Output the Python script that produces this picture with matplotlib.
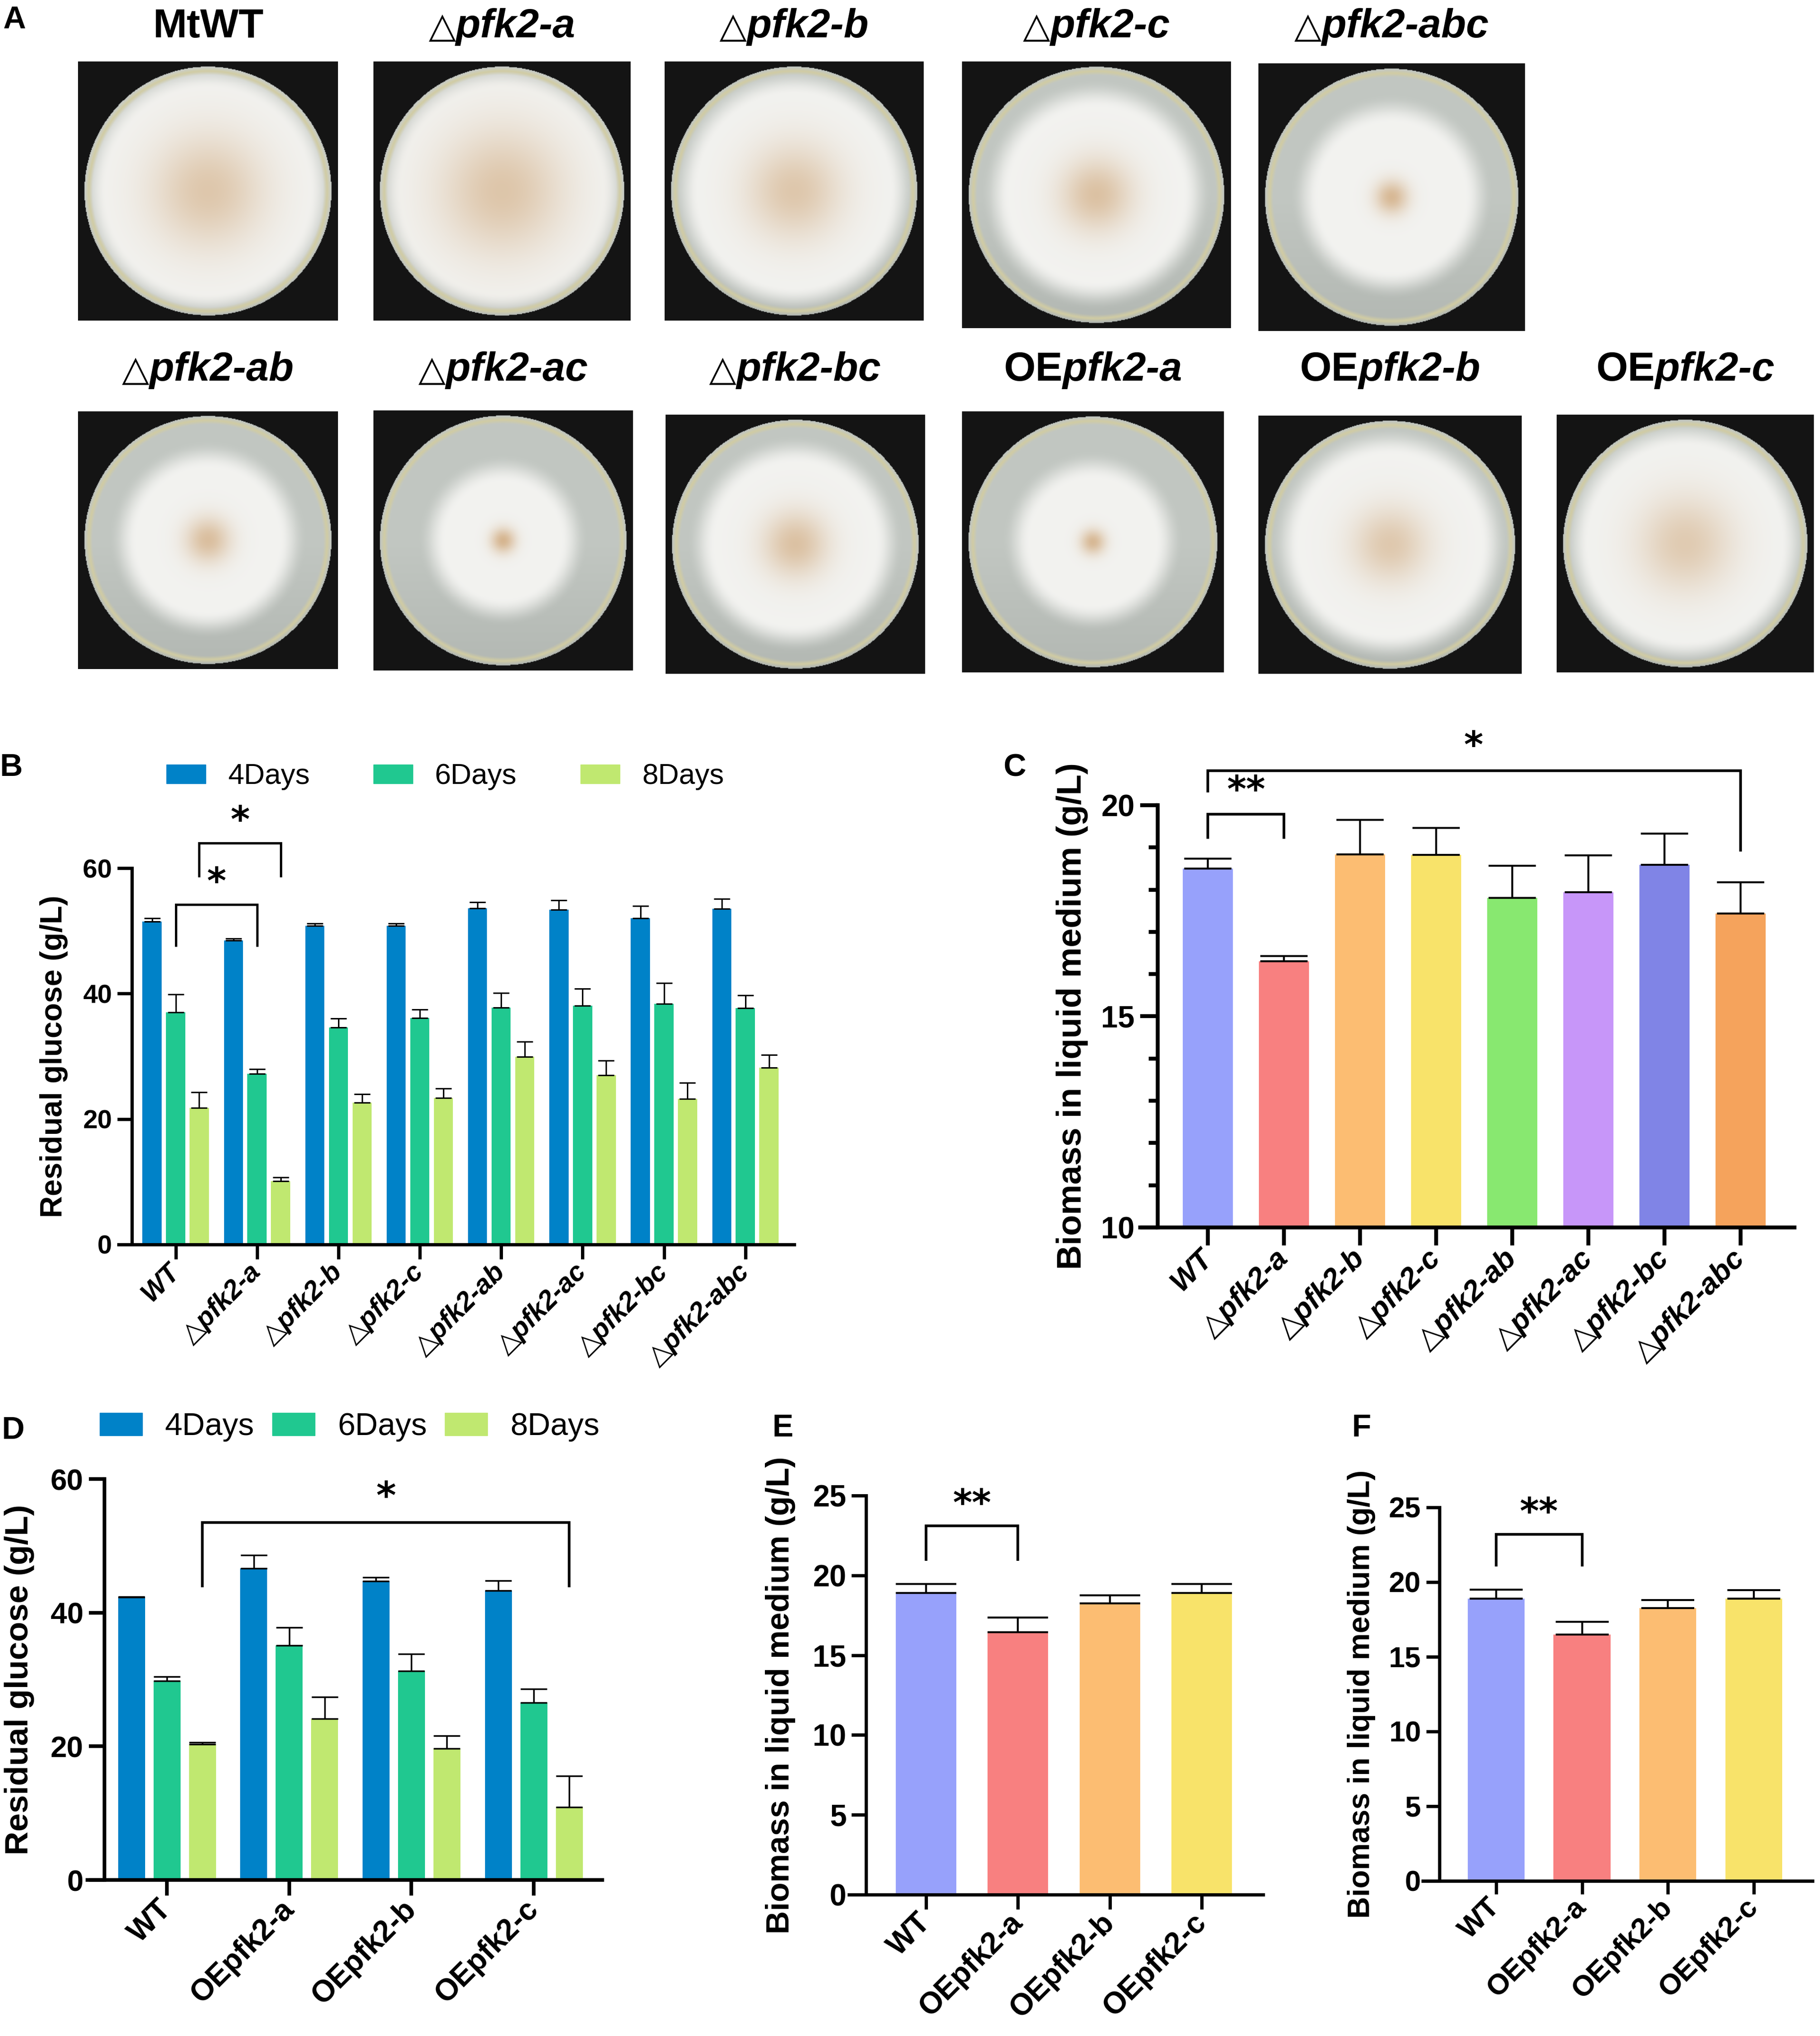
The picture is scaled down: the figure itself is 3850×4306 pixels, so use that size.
import numpy as np
import matplotlib
matplotlib.use("Agg")
import matplotlib.pyplot as plt
from matplotlib.patches import Patch

plt.rcParams['font.family'] = ['Liberation Sans', 'DejaVu Sans']

# ---------------- data ----------------
b_groups = ['WT', '△pfk2-a', '△pfk2-b', '△pfk2-c', '△pfk2-ab', '△pfk2-ac', '△pfk2-bc', '△pfk2-abc']
b_day4 = [51.5, 48.5, 50.8, 50.8, 53.6, 53.4, 52.0, 53.5]
b_day4_err = [0.5, 0.3, 0.4, 0.4, 1.0, 1.5, 2.0, 1.6]
b_day6 = [37.0, 27.2, 34.6, 36.1, 37.8, 38.1, 38.4, 37.7]
b_day6_err = [2.9, 0.8, 1.4, 1.4, 2.3, 2.7, 3.3, 2.0]
b_day8 = [21.8, 10.1, 22.6, 23.4, 29.9, 27.0, 23.2, 28.2]
b_day8_err = [2.5, 0.6, 1.4, 1.5, 2.4, 2.3, 2.6, 2.0]

c_groups = b_groups
c_biomass = [18.50, 16.30, 18.84, 18.82, 17.81, 17.94, 18.59, 17.44]
c_err = [0.24, 0.13, 0.81, 0.64, 0.76, 0.87, 0.74, 0.73]

d_groups = ['WT', 'OEpfk2-a', 'OEpfk2-b', 'OEpfk2-c']
d_day4 = [42.3, 46.6, 44.7, 43.3]
d_day4_err = [0.1, 2.0, 0.6, 1.5]
d_day6 = [29.8, 35.1, 31.3, 26.5]
d_day6_err = [0.6, 2.7, 2.5, 2.1]
d_day8 = [20.3, 24.1, 19.7, 10.9]
d_day8_err = [0.3, 3.3, 1.9, 4.7]

e_groups = d_groups
e_biomass = [18.9, 16.45, 18.25, 18.9]
e_err = [0.55, 0.9, 0.5, 0.55]

f_groups = d_groups
f_biomass = [18.9, 16.5, 18.25, 18.9]
f_err = [0.6, 0.85, 0.55, 0.55]

day_labels = ['4Days', '6Days', '8Days']

plate_titles = [
    [('MtWT', 'n')], [('△', 't'), ('pfk2-a', 'i')], [('△', 't'), ('pfk2-b', 'i')],
    [('△', 't'), ('pfk2-c', 'i')], [('△', 't'), ('pfk2-abc', 'i')],
    [('△', 't'), ('pfk2-ab', 'i')], [('△', 't'), ('pfk2-ac', 'i')], [('△', 't'), ('pfk2-bc', 'i')],
    [('OE', 'n'), ('pfk2-a', 'i')], [('OE', 'n'), ('pfk2-b', 'i')], [('OE', 'n'), ('pfk2-c', 'i')],
]
# colony radius, tan-centre radius (relative to dish), tan strength
plate_colony = [1.0, 1.0, 0.95, 0.85, 0.74, 0.74, 0.62, 0.82, 0.66, 0.9, 0.96]
plate_center = [0.45, 0.50, 0.38, 0.28, 0.13, 0.18, 0.10, 0.26, 0.10, 0.30, 0.38]
plate_tan = [0.6, 0.62, 0.6, 0.68, 0.8, 0.72, 0.85, 0.68, 0.8, 0.58, 0.55]

# ---------------- styles ----------------
day_colors = ['#0082C8', '#20C890', '#C0E870']
c_colors = ['#97A1FB', '#F88080', '#FCBD72', '#F8E36A', '#88E870', '#C796F9', '#8084E6', '#F5A35C']
ef_colors = c_colors[:4]

W, H = 3850, 4306
fig = plt.figure(figsize=(W / 100, H / 100), dpi=100)


def fx(px):
    return px / W


def fy(py):
    return 1 - py / H


def axes_px(x0, x1, y0, y1):
    return fig.add_axes([fx(x0), fy(y1), fx(x1) - fx(x0), fy(y0) - fy(y1)])


# ---------------- panel A: plates ----------------
plate_boxes = [
    (165, 715, 130, 678), (790, 1334, 130, 678), (1406, 1954, 130, 678),
    (2035, 2604, 130, 694), (2662, 3226, 134, 700),
    (165, 715, 870, 1415), (790, 1339, 868, 1418), (1408, 1956, 877, 1425),
    (2035, 2589, 870, 1422), (2662, 3219, 879, 1425), (3293, 3837, 877, 1422),
]


def plate_image(rc, rt, ts, n=360):
    yy, xx = np.mgrid[0:n, 0:n]
    u = (xx + 0.5) / n - 0.5
    v = (yy + 0.5) / n - 0.5
    r = np.sqrt((u / 0.475) ** 2 + (v / 0.48) ** 2)
    bg = np.array([0.08, 0.08, 0.08])
    agar = np.array([0.76, 0.78, 0.76]) - 0.06 * np.clip(v, 0, 1)[..., None] * 2
    white = np.array([0.95, 0.95, 0.94])
    tan = np.array([0.82, 0.67, 0.50])
    rim = np.array([0.82, 0.80, 0.64])
    w = np.clip((rc * 0.93 - r) / 0.22 + 0.5, 0, 1)[..., None]
    w = w * w * (3 - 2 * w)
    col = agar * (1 - w) + white * w
    t = (ts * np.exp(-(r / rt) ** 2))[..., None]
    col = col * (1 - t) + tan * t
    rimw = np.clip(1 - np.abs(r - 0.965) / 0.03, 0, 1)[..., None]
    col = col * (1 - rimw) + rim * rimw
    inside = (r <= 1.0)[..., None]
    return np.where(inside, col, bg)


fig.canvas.draw()
renderer = fig.canvas.get_renderer()

for k, box in enumerate(plate_boxes):
    ax = axes_px(*box)
    ax.imshow(plate_image(plate_colony[k], plate_center[k], plate_tan[k]),
              aspect='auto', interpolation='bilinear')
    ax.set_axis_off()
    cx = (box[0] + box[1]) / 2
    base = 79 if k < 5 else 805
    segs = []
    for txt, st in plate_titles[k]:
        if st == 't':
            kw = dict(family=['DejaVu Sans'], fontweight='normal', fontsize=54)
        elif st == 'i':
            kw = dict(fontweight='bold', fontstyle='italic', fontsize=62)
        else:
            kw = dict(fontweight='bold', fontsize=62)
        segs.append(fig.text(0, fy(base), txt, ha='left', va='baseline', **kw))
    widths = [s.get_window_extent(renderer).width for s in segs]
    x = cx - sum(widths) / 2
    for s, wdt in zip(segs, widths):
        s.set_x(fx(x))
        x += wdt

# ---------------- helpers ----------------

def style_axes(ax, xlim, yaxis_x, ylim, yticks, lw, tlen, ytfs, xtfs, labels, italic):
    ax.set_xlim(*xlim)
    ax.set_ylim(*ylim)
    ax.spines['top'].set_visible(False)
    ax.spines['right'].set_visible(False)
    ax.spines['left'].set_position(('data', yaxis_x))
    ax.spines['left'].set_linewidth(lw)
    ax.spines['bottom'].set_linewidth(lw)
    ax.set_yticks(yticks)
    ax.set_yticklabels([str(v) for v in yticks], fontweight='bold', fontsize=ytfs)
    ax.set_xticks(range(len(labels)))
    ax.set_xticklabels(labels, rotation=45, ha='right', va='center', rotation_mode='anchor',
                       fontweight='bold', fontstyle='italic' if italic else 'normal', fontsize=xtfs)
    ax.tick_params(axis='both', width=lw, length=tlen, direction='out')
    ax.tick_params(axis='x', pad=14)
    ax.tick_params(axis='y', pad=8)
    ax.set_facecolor('none')


def bracket(ax, x0, x1, yl0, yl1, ytop, lw):
    ax.plot([x0, x0, x1, x1], [yl0, ytop, ytop, yl1], color='black', lw=lw,
            clip_on=False, solid_capstyle='butt', solid_joinstyle='miter')


def stars(ax, x, y, s, fs):
    ax.text(x, y, s, ha='center', va='center', fontsize=fs, fontweight='bold',
            family=['DejaVu Sans'], clip_on=False)


def ylabel(ax, x_px, text, fs):
    pos = ax.get_position()
    fig.text(fx(x_px), pos.y0 + pos.height / 2, text, rotation=90, ha='center', va='center',
             fontsize=fs, fontweight='bold')


# ---------------- panel B ----------------
axB = axes_px(251, 1680, 1836, 2632)
xb = np.arange(len(b_groups))
offs = [-0.29, 0.0, 0.29]
bw = 0.235
for vals, errs, col, off in zip([b_day4, b_day6, b_day8], [b_day4_err, b_day6_err, b_day8_err], day_colors, offs):
    axB.bar(xb + off, vals, width=bw, color=col, zorder=2)
    axB.errorbar(xb + off, vals, yerr=[np.zeros(len(vals)), errs], fmt='none', ecolor='black',
                 elinewidth=2.2, capsize=12, capthick=2.2, zorder=3)
style_axes(axB, (-0.70, 7.6), -0.54, (0, 60), [0, 20, 40, 60], 5, 22, 40, 41, b_groups, True)
bracket(axB, 0, 1, 47.5, 47.5, 54.2, 3.5)
stars(axB, 0.5, 57.6, '*', 56)
bracket(axB, 0.29, 1.29, 58.6, 58.6, 64.0, 3.5)
stars(axB, 0.79, 67.4, '*', 56)
ylabel(axB, 114, 'Residual glucose (g/L)', 46)
axB.legend(handles=[Patch(color=c, label=l) for c, l in zip(day_colors, day_labels)],
           ncol=3, loc='center left', bbox_to_anchor=(fx(352), fy(1643)), bbox_transform=fig.transFigure,
           frameon=False, fontsize=44, handlelength=1.36, handleheight=0.64, handletextpad=0.77,
           columnspacing=2.2, borderpad=0, borderaxespad=0)

# ---------------- panel C ----------------
axC = axes_px(2412, 3796, 1703, 2596)
xc = np.arange(len(c_groups))
axC.bar(xc, c_biomass, width=0.66, color=c_colors, zorder=2)
axC.errorbar(xc, c_biomass, yerr=[np.zeros(len(c_err)), c_err], fmt='none', ecolor='black',
             elinewidth=3, capsize=36, capthick=3, zorder=3)
style_axes(axC, (-0.89, 7.71), -0.66, (10, 20), [10, 15, 20], 6, 27, 46, 45, c_groups, True)
axC.set_yticks(np.arange(10, 21, 1), minor=True)
axC.tick_params(axis='y', which='minor', width=6, length=14)
bracket(axC, 0, 1, 19.21, 19.21, 19.79, 4)
stars(axC, 0.5, 20.33, '**', 56)
bracket(axC, 0, 7, 20.3, 18.9, 20.82, 4)
stars(axC, 3.49, 21.38, '*', 56)
ylabel(axC, 2268, 'Biomass in liquid medium (g/L)', 52)

# ---------------- panel D ----------------
axD = axes_px(185, 1274, 3128, 3976)
xd = np.arange(len(d_groups))
for vals, errs, col, off in zip([d_day4, d_day6, d_day8], [d_day4_err, d_day6_err, d_day8_err], day_colors, offs):
    axD.bar(xd + off, vals, width=0.22, color=col, zorder=2)
    axD.errorbar(xd + off, vals, yerr=[np.zeros(len(vals)), errs], fmt='none', ecolor='black',
                 elinewidth=2.5, capsize=20, capthick=2.5, zorder=3)
style_axes(axD, (-0.65, 3.56), -0.51, (0, 60), [0, 20, 40, 60], 5.5, 24, 45, 46, d_groups, False)
bracket(axD, 0.29, 3.29, 43.8, 43.8, 53.5, 4)
stars(axD, 1.79, 57.2, '*', 58)
ylabel(axD, 41, 'Residual glucose (g/L)', 50)
axD.legend(handles=[Patch(color=c, label=l) for c, l in zip(day_colors, day_labels)],
           ncol=3, loc='center left', bbox_to_anchor=(fx(211), fy(3018)), bbox_transform=fig.transFigure,
           frameon=False, fontsize=48, handlelength=1.35, handleheight=0.73, handletextpad=0.72,
           columnspacing=0.57, borderpad=0, borderaxespad=0)

# ---------------- panel E ----------------
axE = axes_px(1796, 2672, 3163, 4007)
xe = np.arange(len(e_groups))
axE.bar(xe, e_biomass, width=0.66, color=ef_colors, zorder=2)
axE.errorbar(xe, e_biomass, yerr=[np.zeros(len(e_err)), e_err], fmt='none', ecolor='black',
             elinewidth=3, capsize=46, capthick=3, zorder=3)
style_axes(axE, (-0.84, 3.67), -0.655, (0, 25), [0, 5, 10, 15, 20, 25], 5, 22, 46, 46, e_groups, False)
bracket(axE, 0, 1, 20.9, 20.9, 23.1, 4)
stars(axE, 0.5, 24.4, '**', 56)
ylabel(axE, 1651, 'Biomass in liquid medium (g/L)', 49)

# ---------------- panel F ----------------
axF = axes_px(3010, 3834, 3188, 3978)
xf = np.arange(len(f_groups))
axF.bar(xf, f_biomass, width=0.66, color=ef_colors, zorder=2)
axF.errorbar(xf, f_biomass, yerr=[np.zeros(len(f_err)), f_err], fmt='none', ecolor='black',
             elinewidth=3, capsize=40, capthick=3, zorder=3)
style_axes(axF, (-0.85, 3.68), -0.66, (0, 25), [0, 5, 10, 15, 20, 25], 5, 20, 44, 44, f_groups, False)
bracket(axF, 0, 1, 21.05, 21.05, 23.2, 4)
stars(axF, 0.5, 24.6, '**', 56)
ylabel(axF, 2880, 'Biomass in liquid medium (g/L)', 46)

# ---------------- panel letters ----------------
for letter, (x, y) in zip('ABCDEF', [(6, 60), (0, 1641), (2122, 1641), (4, 3043), (1634, 3038), (2859, 3038)]):
    fig.text(fx(x), fy(y), letter, ha='left', va='baseline', fontsize=48, fontweight='bold')

fig.savefig('out.png', dpi=100)
